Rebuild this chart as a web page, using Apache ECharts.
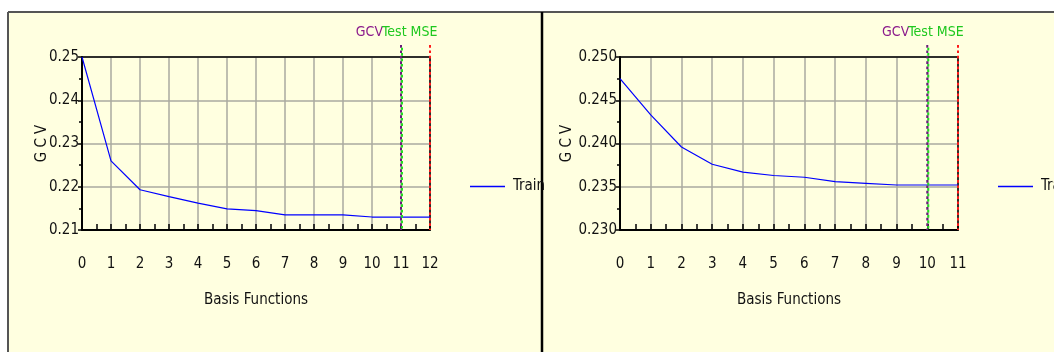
<!DOCTYPE html>
<html>
<head>
<meta charset="utf-8">
<script src="https://cdn.jsdelivr.net/npm/echarts@6/dist/echarts.min.js"></script>
<style>
  html, body { margin: 0; padding: 0; background: #ffffff; }
  #chart { width: 1054px; height: 352px; }
</style>
</head>
<body>
<div id="chart"></div>
<script>
// GCV curves for the two model runs, indexed by number of basis functions
const basisA = [0, 1, 2, 3, 4, 5, 6, 7, 8, 9, 10, 11, 12];
const gcvA = [0.2500, 0.2260, 0.2193, 0.2177, 0.2162, 0.2149, 0.2145, 0.2135, 0.2135, 0.2135, 0.2130, 0.2130, 0.2130];

const basisB = [0, 1, 2, 3, 4, 5, 6, 7, 8, 9, 10, 11];
const gcvB = [0.2475, 0.2433, 0.2396, 0.2376, 0.2367, 0.2363, 0.2361, 0.2356, 0.2354, 0.2352, 0.2352, 0.2352];

// selected model size by GCV, by test MSE, and the largest model tried
const markerKinds = ['gcv', 'test', 'max'];
const markersA = [11, 11, 12];
const markersB = [10, 10, 11];

// y-axis ranges and steps
const yRangeA = [0.21, 0.25, 0.01];
const yRangeB = [0.23, 0.25, 0.005];

const FONT = "'Liberation Sans Narrow', 'Arial Narrow', 'DejaVu Sans Condensed', sans-serif";
const BG = '#FFFFE0';
const TRAIN_BLUE = '#0000ff';

const markerStyle = {
  gcv:  { stroke: '#6a1b7a', dx: 0, offset: 0 },
  test: { stroke: '#22dd22', dx: 1, offset: 2.7 },
  max:  { stroke: '#ff1a1a', dx: 0, offset: 0 }
};

function markerSeries(gridIdx, positions) {
  return {
    type: 'custom',
    xAxisIndex: gridIdx,
    yAxisIndex: gridIdx,
    z: 5,
    silent: true,
    clip: false,
    data: positions.map((p, i) => [p, i]),
    renderItem: function (params, api) {
      const cs = params.coordSys;
      const x = api.coord([api.value(0), api.value(1) * 0])[0];
      const kind = markerKinds[api.value(1)];
      const st = markerStyle[kind];
      const top = cs.y - 12;
      const bottom = cs.y + cs.height;
      const children = [{
        type: 'line',
        shape: { x1: x + st.dx, y1: top, x2: x + st.dx, y2: bottom },
        style: { stroke: st.stroke, lineWidth: 2, lineDash: [2.7, 2.7], lineDashOffset: st.offset }
      }];
      if (kind === 'gcv') {
        children.push({
          type: 'text',
          style: { text: 'GCV', x: x - 18, y: cs.y - 25, align: 'right', verticalAlign: 'middle',
                   fill: '#8b1a8b', font: '14px ' + FONT }
        });
      }
      if (kind === 'test') {
        children.push({
          type: 'text',
          style: { text: 'Test MSE', x: x - 19, y: cs.y - 25, align: 'left', verticalAlign: 'middle',
                   fill: '#1ec81e', font: '14px ' + FONT }
        });
      }
      return { type: 'group', children: children };
    }
  };
}

function xAxisOpt(gridIdx, maxX) {
  return {
    type: 'value', gridIndex: gridIdx, min: 0, max: maxX, interval: 1,
    name: 'Basis Functions', nameLocation: 'middle', nameGap: 63,
    nameTextStyle: { color: '#111', fontFamily: FONT, fontSize: 15 },
    axisLine: { show: true, onZero: false, lineStyle: { color: '#000', width: 2 } },
    axisTick: { show: true, inside: true, length: 6, lineStyle: { color: '#000', width: 1.5 } },
    minorTick: { show: true, splitNumber: 2, length: 6, lineStyle: { color: '#000', width: 1.5 } },
    axisLabel: { margin: 27, color: '#111', fontFamily: FONT, fontSize: 15 },
    splitLine: { show: true, lineStyle: { color: '#aaaaa0', width: 1.5 } }
  };
}

// plain black frame edge on the opposite side of the plot
function frameXAxis(gridIdx, maxX) {
  return {
    type: 'value', gridIndex: gridIdx, min: 0, max: maxX, interval: 1, position: 'top',
    axisLine: { show: true, onZero: false, lineStyle: { color: '#000', width: 1.5 } },
    axisTick: { show: false }, axisLabel: { show: false }, splitLine: { show: false }
  };
}

function frameYAxis(gridIdx, range) {
  return {
    type: 'value', gridIndex: gridIdx, min: range[0], max: range[1], interval: range[2], position: 'right',
    axisLine: { show: true, onZero: false, lineStyle: { color: '#000', width: 1.5 } },
    axisTick: { show: false }, axisLabel: { show: false }, splitLine: { show: false }
  };
}

function yAxisOpt(gridIdx, range, digits, gap, moveOverlap) {
  return {
    type: 'value', gridIndex: gridIdx, min: range[0], max: range[1], interval: range[2],
    name: 'G C V', nameLocation: 'middle', nameGap: gap, nameRotate: 90,
    nameMoveOverlap: moveOverlap,
    nameTextStyle: { color: '#111', fontFamily: FONT, fontSize: 15 },
    axisLine: { show: true, onZero: false, lineStyle: { color: '#000', width: 2 } },
    axisTick: { show: true, inside: false, length: 4, lineStyle: { color: '#000', width: 1.5 } },
    minorTick: { show: true, splitNumber: 2, length: 3, lineStyle: { color: '#000', width: 1.5 } },
    axisLabel: { margin: 3, color: '#111', fontFamily: FONT, fontSize: 15,
                 formatter: v => v.toFixed(digits) },
    splitLine: { show: true, lineStyle: { color: '#aaaaa0', width: 1.5 } }
  };
}

function lineSeries(gridIdx, xs, ys) {
  return {
    name: 'Train', type: 'line', xAxisIndex: gridIdx, yAxisIndex: gridIdx,
    symbol: 'none', z: 4,
    lineStyle: { color: TRAIN_BLUE, width: 1.2 },
    itemStyle: { color: TRAIN_BLUE },
    data: xs.map((x, i) => [x, ys[i]])
  };
}

function legendOpt(left, seriesIdx) {
  return {
    left: left, top: 174, seriesIndex: seriesIdx,
    data: [{ name: 'Train', icon: 'rect', itemStyle: { color: TRAIN_BLUE } }],
    itemWidth: 35, itemHeight: 1.5, selectedMode: false,
    itemStyle: { color: TRAIN_BLUE, borderWidth: 0 },
    textStyle: { color: '#111', fontFamily: FONT, fontSize: 15, padding: [0, 0, 0, 3] }
  };
}

const chart = echarts.init(document.getElementById('chart'), null, { renderer: 'canvas' });
chart.setOption({
  backgroundColor: '#ffffff',
  animation: false,
  graphic: [
    { type: 'rect', z: -10, shape: { x: 8, y: 12, width: 1060, height: 350 }, style: { fill: BG } },
    { type: 'line', z: -9, shape: { x1: 8, y1: 12, x2: 1060, y2: 12 }, style: { stroke: '#555', lineWidth: 2 } },
    { type: 'line', z: -9, shape: { x1: 8, y1: 12, x2: 8, y2: 360 }, style: { stroke: '#555', lineWidth: 2 } },
    { type: 'line', z: -9, shape: { x1: 542, y1: 12, x2: 542, y2: 360 }, style: { stroke: '#000', lineWidth: 2.5 } }
  ],
  grid: [
    { left: 82, top: 57, width: 348, height: 173 },
    { left: 620, top: 57, width: 338, height: 173 }
  ],
  xAxis: [
    xAxisOpt(0, basisA[basisA.length - 1]), xAxisOpt(1, basisB[basisB.length - 1]),
    frameXAxis(0, basisA[basisA.length - 1]), frameXAxis(1, basisB[basisB.length - 1])
  ],
  yAxis: [
    yAxisOpt(0, yRangeA, 2, 32, false), yAxisOpt(1, yRangeB, 3, 42, true),
    frameYAxis(0, yRangeA), frameYAxis(1, yRangeB)
  ],
  legend: [legendOpt(465, 0), legendOpt(993, 1)],
  series: [
    lineSeries(0, basisA, gcvA),
    lineSeries(1, basisB, gcvB),
    markerSeries(0, markersA),
    markerSeries(1, markersB)
  ]
});
</script>
</body>
</html>
